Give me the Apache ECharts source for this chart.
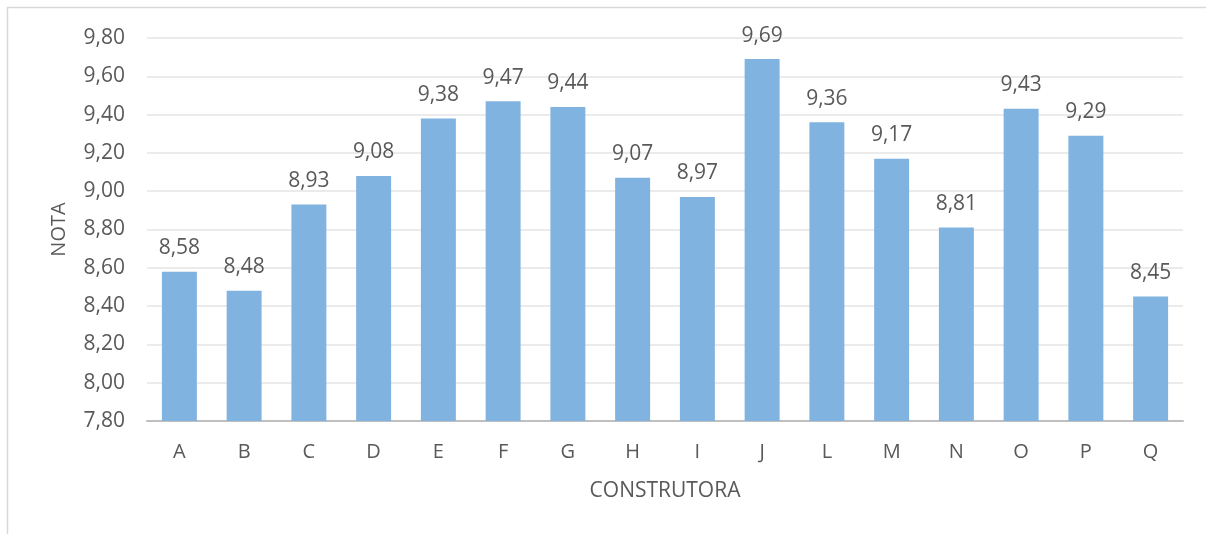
<!DOCTYPE html>
<html>
<head>
<meta charset="utf-8">
<script src="https://cdn.jsdelivr.net/npm/echarts@6/dist/echarts.min.js"></script>
<style>
html,body{margin:0;padding:0;background:#fff;}
#c{width:1206px;height:534px;}
</style>
</head>
<body>
<div id="c"></div>
<script>
var categories = ['A','B','C','D','E','F','G','H','I','J','L','M','N','O','P','Q'];
var notas = [8.58,8.48,8.93,9.08,9.38,9.47,9.44,9.07,8.97,9.69,9.36,9.17,8.81,9.43,9.29,8.45];
var yMin = 7.8, yMax = 9.8, yStep = 0.2;

function fmt(v){ return Number(v).toFixed(2).replace('.', ','); }

var chart = echarts.init(document.getElementById('c'), null, {renderer:'canvas'});
var txt = '#595959';
var ff = '"Open Sans", sans-serif';
chart.setOption({
  animation:false,
  backgroundColor:'#fff',
  graphic:[{
    type:'rect', silent:true,
    shape:{x:7.5,y:7.5,width:1400,height:800},
    style:{fill:'none',stroke:'#d9d9d9',lineWidth:1.5}
  }],
  grid:{left:147,right:23,top:38,bottom:113,containLabel:false},
  xAxis:{
    type:'category', data:categories,
    name:'CONSTRUTORA', nameLocation:'middle', nameGap:60,
    nameTextStyle:{color:txt,fontSize:21,fontFamily:ff},
    axisLine:{lineStyle:{color:'#bfbfbf',width:2}},
    axisTick:{show:false},
    axisLabel:{color:txt,fontSize:20,fontFamily:ff,margin:21}
  },
  yAxis:{
    type:'value', min:yMin, max:yMax, interval:yStep,
    name:'NOTA', nameLocation:'middle', nameGap:78, nameRotate:90,
    nameTextStyle:{color:txt,fontSize:20,fontFamily:ff},
    axisLine:{show:false}, axisTick:{show:false},
    axisLabel:{color:txt,fontSize:21,fontFamily:ff,margin:22,formatter:fmt},
    splitLine:{lineStyle:{color:'#ebebeb',width:2}}
  },
  series:[{
    type:'bar', data:notas, barWidth:'54%',
    itemStyle:{color:'#80b3df'},
    label:{show:true,position:'top',distance:13,color:txt,fontSize:21,fontFamily:ff,formatter:function(p){return fmt(p.value);}}
  }]
});
</script>
</body>
</html>
